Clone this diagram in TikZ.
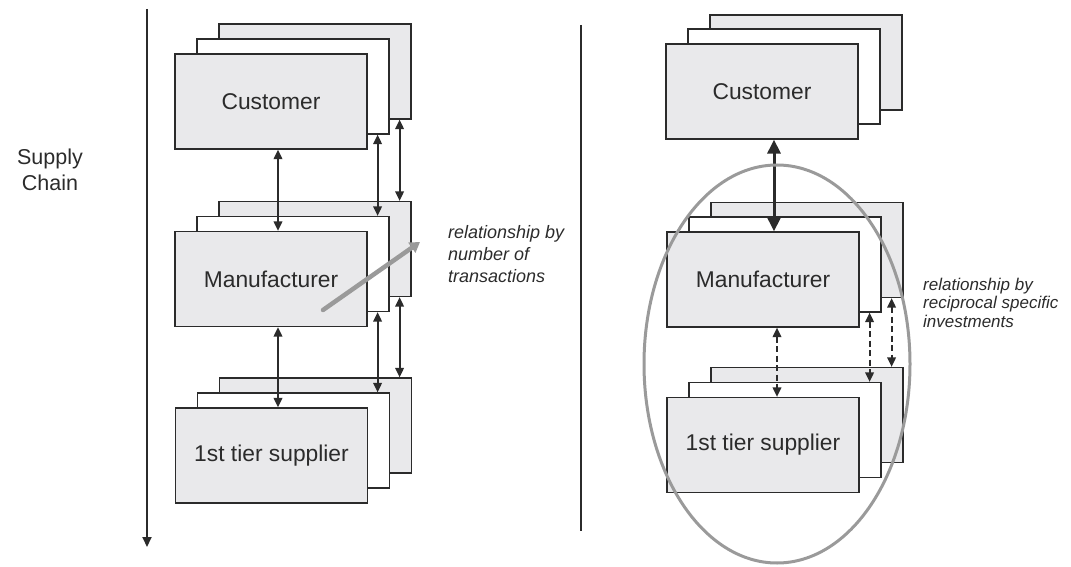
\documentclass[tikz,border=0pt]{standalone}
\usepackage{fontspec}
\setmainfont{Liberation Sans}
\usetikzlibrary{arrows.meta,shapes.geometric}
\definecolor{boxfill}{HTML}{E9E9EB}
\definecolor{lineclr}{HTML}{2B2B2B}
\definecolor{ovalclr}{HTML}{9A9A9A}
\begin{document}
\begin{tikzpicture}[x=1pt,y=-1pt,
  card/.style={draw=lineclr, line width=1.2pt, fill=boxfill, minimum width=192pt, minimum height=95pt, inner sep=0pt, font=\fontsize{22.8}{27}\selectfont, text=lineclr},
  cardw/.style={card, fill=white},
  link/.style={lineclr, line width=1.9pt, {Triangle[length=9.5pt,width=8.5pt]}-{Triangle[length=9.5pt,width=8.5pt]}},
  strong/.style={lineclr, line width=3pt, {Triangle[length=14pt,width=13pt]}-{Triangle[length=14pt,width=13pt]}},
  dlink/.style={link, dash pattern=on 6pt off 3.5pt},
  note/.style={font=\fontsize{18}{22}\selectfont\itshape, text=lineclr, align=left, inner sep=0pt},
  noter/.style={font=\fontsize{17}{18.5}\selectfont\itshape, text=lineclr, align=left, inner sep=0pt},
  side/.style={font=\fontsize{21.5}{25.5}\selectfont, text=lineclr, align=center, inner sep=0pt}
]
\useasboundingbox (0,0) rectangle (1071,567);

% left column
\node[card]  (lc3) at (315,71.5) {};
\node[cardw] (lc2) at (293,86.5) {};
\node[card]  (lc1) at (271,101.5) {Customer};
\node[card]  (lm3) at (315,249) {};
\node[cardw] (lm2) at (293,264) {};
\node[card]  (lm1) at (271,279) {Manufacturer};
\node[card]  (ls3) at (315.5,425.5) {};
\node[cardw] (ls2) at (293.5,440.5) {};
\node[card]  (ls1) at (271.5,455.5) {1st tier supplier};

\draw[link] ([xshift=7pt]lc1.south) -- ([xshift=7pt]lm1.north);
\draw[link] ([xshift=-12pt]lc2.south east) -- ([xshift=-12pt]lm2.north east);
\draw[link] ([xshift=-12pt]lc3.south east) -- ([xshift=-12pt]lm3.north east);
\draw[link] ([xshift=7pt]lm1.south) -- ([xshift=6.5pt]ls1.north);
\draw[link] ([xshift=-12pt]lm2.south east) -- ([xshift=-12.5pt]ls2.north east);
\draw[link] ([xshift=-12pt]lm3.south east) -- ([xshift=-12.5pt]ls3.north east);

\coordinate (gs) at (323,310);
\coordinate (ge) at (420,242);
\draw[ovalclr, line width=4.5pt, line cap=round, -{Triangle[length=10pt,width=12pt]}] (gs) -- (ge);

\node[note, anchor=north west] (lnote) at (448,225) {relationship by\\number of\\transactions};

% supply chain axis
\coordinate (at) at (147,9);
\coordinate (ab) at (147,547);
\draw[lineclr, line width=2pt, -{Triangle[length=10pt,width=9pt]}] (at) -- (ab);
\node[side, anchor=north] (sc) at (50,149) {Supply\\Chain};

% divider
\coordinate (dt) at (581,25);
\coordinate (db) at (581,531);
\draw[lineclr, line width=1.3pt] (dt) -- (db);

% right column
\node[card]  (rc3) at (806,62.5) {};
\node[cardw] (rc2) at (784,76.5) {};
\node[card]  (rc1) at (762,91.5) {Customer};
\node[card]  (rm3) at (807,250) {};
\node[cardw] (rm2) at (785,264.5) {};
\node[card]  (rm1) at (763,279.5) {Manufacturer};
\node[card]  (rs3) at (807,415) {};
\node[cardw] (rs2) at (785,430) {};
\node[card]  (rs1) at (763,445) {1st tier supplier};

\draw[strong] ([xshift=12pt]rc1.south) -- ([xshift=11pt]rm1.north);
\draw[dlink] ([xshift=14pt]rm1.south) -- ([xshift=14pt]rs1.north);
\draw[dlink] ([xshift=-12pt]rm2.south east) -- ([xshift=-12pt]rs2.north east);
\draw[dlink] ([xshift=-12pt]rm3.south east) -- ([xshift=-12pt]rs3.north east);

\node[draw=ovalclr, line width=3pt, ellipse, minimum width=266pt, minimum height=398pt, inner sep=0pt] (oval) at (777,364) {};

\node[noter, anchor=north west] (rnote) at (923,277.5) {relationship by\\reciprocal specific\\investments};
\end{tikzpicture}
\end{document}
